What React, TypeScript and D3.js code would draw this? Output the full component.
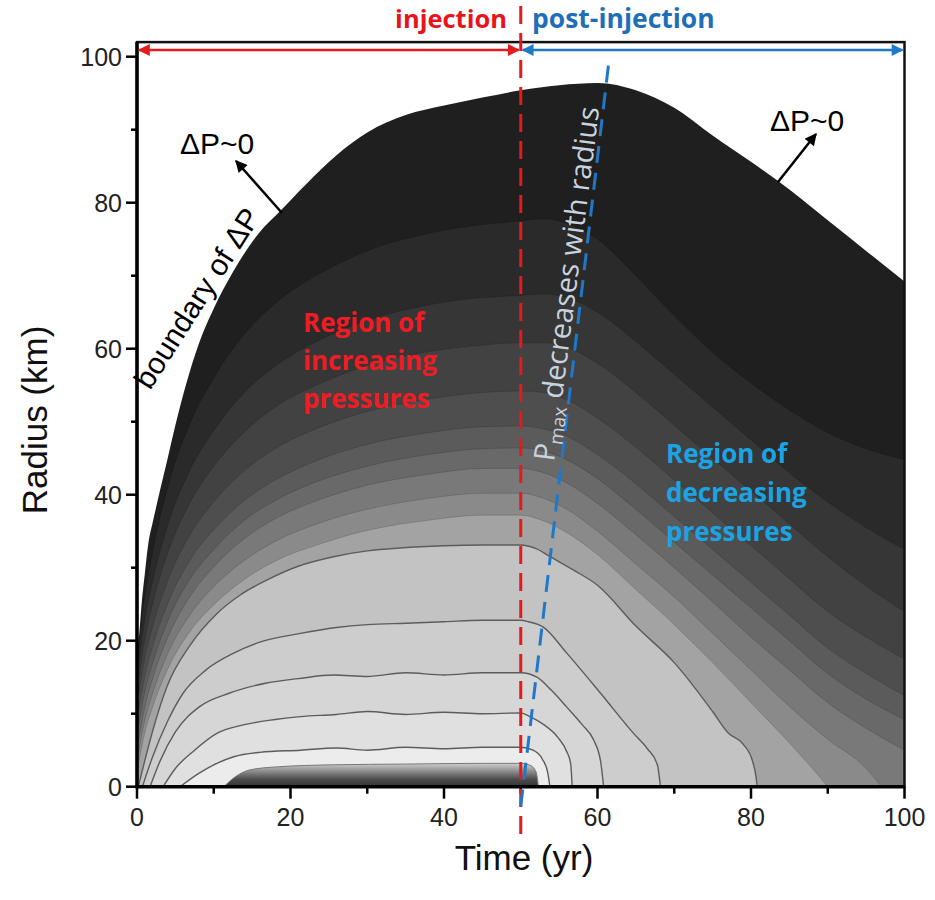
import React from "react";
import * as d3 from "d3";

type Pt = [number, number];

const timeTicks = [0, 20, 40, 60, 80, 100];
const radiusTicks = [0, 20, 40, 60, 80, 100];
const minorTicks = [10, 30, 50, 70, 90];

// outer edge of the pressure perturbation (ΔP ~ 0)
const boundaryDP: Pt[] = [[0,19],[0.3,21],[0.6,25],[1,29],[1.5,33.5],[2,36],[2.5,38.3],[3,40.6],[4,45],[5,49.5],[6.5,55.5],[8,60.5],[10,65.5],[12.5,70.5],[16,76],[18.6,78.8],[22,82.5],[26,86.5],[30,89.6],[35,92],[40,93.3],[45,94.4],[50,95.4],[55,96.1],[60,96.4],[65,95.4],[70,93],[75,89.2],[80,85.6],[85,81.8],[90,77.6],[95,73.4],[100,69.2]];

// filled contour levels (no drawn line), outer to inner
const levelA: Pt[] = [[0,17],[1,26],[2,32],[4,41],[7,50],[10,56],[14,62],[18,66.2],[24,70.4],[30,73.4],[38,75.8],[45,77],[50,77.5],[53,77.8],[56,77.2],[60,75],[65,70],[70,64.5],[75,59.5],[80,55.3],[85,51.6],[90,48.5],[95,46.3],[100,44.8]];
const levelB: Pt[] = [[0,15],[1,22.8],[2,28],[4,35.8],[7,43.6],[10,48.8],[14,54],[18,57.6],[24,61.3],[30,63.9],[38,66],[45,67],[50,67.3],[53,67.5],[56,67],[60,65],[65,61],[70,56.5],[75,52],[80,47.5],[85,43],[90,39],[95,35.5],[100,32.5]];
const levelC: Pt[] = [[0,13],[1,20.1],[2,24.9],[4,32],[7,39.1],[10,43.9],[14,48.6],[18,52],[24,55.3],[30,57.7],[38,59.6],[45,60.5],[50,60.8],[53,60.8],[56,60.2],[60,58],[65,54],[70,49.5],[75,45],[80,40.5],[85,36],[90,31.5],[95,27.5],[100,24]];
const levelD: Pt[] = [[0,11],[1,17.5],[2,21.8],[4,28.2],[7,34.7],[10,39],[14,43.3],[18,46.3],[24,49.3],[30,51.4],[38,53.1],[45,54],[50,54.2],[53,54],[56,53],[60,50.5],[65,46.5],[70,42],[75,37.5],[80,33],[85,28.5],[90,24],[95,20.5],[100,17.5]];
const levelE: Pt[] = [[0,9],[1,15],[2,19.1],[4,25.1],[7,31.2],[10,35.2],[14,39.2],[18,42],[24,44.9],[30,46.9],[38,48.5],[45,49.3],[50,49.4],[53,49],[56,48],[60,45.5],[65,41.5],[70,37],[75,32.5],[80,28],[85,23.5],[90,19],[95,15.5],[100,12.5]];
const levelF: Pt[] = [[0,7],[1,12.9],[2,16.8],[4,22.7],[7,28.6],[10,32.5],[14,36.5],[18,39.2],[24,42],[30,43.9],[38,45.5],[45,46.3],[50,46.4],[53,46],[56,44.8],[60,42.2],[65,38],[70,33.5],[75,29],[80,24.5],[85,20],[90,15.5],[95,12],[100,9.2]];
const levelG: Pt[] = [[0,5],[1,10.8],[2,14.7],[4,20.4],[7,26.2],[10,30.1],[14,34],[18,36.7],[24,39.4],[30,41.3],[38,42.8],[45,43.6],[50,43.6],[53,43],[56,41.6],[60,38.8],[65,34.5],[70,30],[75,25.3],[80,20.5],[85,16],[90,11.5],[95,8],[100,5]];
const levelH: Pt[] = [[0,3.5],[1,9],[2,12.7],[4,18.2],[7,23.7],[10,27.4],[14,31],[18,33.6],[24,36.2],[30,38],[38,39.5],[45,40.2],[50,40.2],[53,39.5],[56,38],[60,35],[65,30.5],[70,26],[75,21],[80,16],[85,11],[90,6.5],[95,2.5],[97,0]];
const levelI: Pt[] = [[0,2],[1,7.3],[2,10.8],[4,16.1],[7,21.4],[10,24.9],[14,28.4],[18,30.9],[24,33.3],[30,35.1],[38,36.5],[45,37.2],[50,37.2],[53,36.4],[56,34.8],[60,31.8],[65,27],[70,22.2],[75,17],[80,11.5],[85,6],[88,2.5],[90,0]];

// contour levels drawn with a line
const line33: Pt[] = [[0.17,0],[1,3.5],[2,7.5],[3.9,13.7],[7,19.5],[10.4,23.7],[13.5,26.3],[16.9,28.3],[21,30.2],[25.6,31.5],[30,32.3],[34.3,32.7],[40,33],[45,33.1],[50,33.1],[52,32.6],[54,31.4],[57,29.6],[60,27.6],[65,22],[70,17],[75,10.3],[77,7.4],[79,5.8],[80.2,3.5],[80.7,1],[80.8,0]];
const line23: Pt[] = [[0.7,0],[2,4],[4,9],[6,12.8],[9,16],[12.6,18.3],[16,19.8],[21.3,21],[26,21.8],[30,22.2],[35,22.4],[40,22.6],[45,22.8],[50,22.8],[51,22.6],[52.9,21.9],[56,18.3],[60.4,12.8],[64.7,7.3],[66.5,5.2],[67.8,3],[68.2,0]];
const line15: Pt[] = [[1.7,0],[3,3.5],[5,7.5],[8.2,11],[12,12.8],[16.9,14.2],[21,14.8],[25.6,15.3],[30,15.1],[35,15.6],[40,15.3],[45,15.6],[50,15.6],[52.1,15],[54,13.2],[56,10.9],[58,8.5],[59.5,6.4],[60.4,3.5],[60.8,0]];
const line10: Pt[] = [[3.4,0],[5,2.5],[7.5,5],[10.4,7.3],[14,8.5],[18,9.2],[21.3,9.6],[26,9.9],[30,10.3],[35,9.9],[40,10.2],[45,10],[50,10.1],[51.2,9.6],[53,8.5],[54.8,6.8],[56,4.8],[56.5,3.2],[56.7,0]];
const line5: Pt[] = [[5.6,0],[8,1.8],[10,3],[12.6,4.1],[16,4.7],[21.3,5],[26,5.3],[30,5],[35,5.4],[40,5.2],[45,5.4],[50,5.4],[51.6,5],[52.8,3.8],[53.5,2],[53.8,0]];
const innerCore: Pt[] = [[11.3,0],[13,1.5],[14.7,2.3],[18,2.7],[25.6,3],[35,3.1],[45,3.2],[50,3.2],[51.3,2.9],[52,2],[52.3,0]];

const bandColors = ["#1f1f1f","#2a2a2a","#363636","#424242","#4e4e4e","#5b5b5b","#696969","#797979","#8a8a8a","#a3a3a3","#c3c3c3","#cdcdcd","#d6d6d6","#e0e0e0","#ececec"];

const injectionEnd = 50;
const blueLineStart: Pt = [50, -2.7];
const blueLineEnd: Pt = [61.5, 99.5];

export default function App() {
  const x = d3.scaleLinear().domain([0, 100]).range([137, 904.5]);
  const y = d3.scaleLinear().domain([0, 100]).range([786.7, 56.7]);
  const area = d3.area<Pt>().x(d => x(d[0])).y0(y(0)).y1(d => y(d[1])).curve(d3.curveMonotoneX);
  const line = d3.line<Pt>().x(d => x(d[0])).y(d => y(d[1])).curve(d3.curveMonotoneX);

  const bands = [boundaryDP, levelA, levelB, levelC, levelD, levelE, levelF, levelG, levelH, levelI, line33, line23, line15, line10, line5];
  const faintEdges = [levelA, levelB, levelC, levelD, levelE, levelF, levelG, levelH, levelI];
  const lined = [line33, line23, line15, line10, line5];

  const top = y(102);
  const sans = "'Liberation Sans', Arial, sans-serif";
  const callout = "'Open Sans', 'Noto Sans', sans-serif";

  return (
    <svg width={935} height={900} style={{ position: "absolute", left: 0, top: 0, background: "#fff" }} fontFamily={sans}>
      <defs>
        <clipPath id="plotClip">
          <rect x={x(0)} y={top} width={x(100) - x(0)} height={y(0) - top} />
        </clipPath>
        <linearGradient id="coreGrad" gradientUnits="userSpaceOnUse" x1={0} y1={y(3.3)} x2={0} y2={y(0)}>
          <stop offset="0" stopColor="#d6d6d6" />
          <stop offset="0.35" stopColor="#8e8e8e" />
          <stop offset="0.7" stopColor="#4a4a4a" />
          <stop offset="1" stopColor="#333333" />
        </linearGradient>
        {[["ahRed", "#e41a1c"], ["ahBlue", "#1f78c8"], ["ahBlack", "#000"]].map(([id, c]) => (
          <marker key={id} id={id} viewBox="0 0 10 10" refX={9} refY={5} markerWidth={14} markerHeight={12} orient="auto-start-reverse" markerUnits="userSpaceOnUse">
            <path d="M0,0 L10,5 L0,10 z" fill={c} />
          </marker>
        ))}
      </defs>

      <g clipPath="url(#plotClip)">
        {bands.map((b, i) => (
          <path key={i} d={area(b) || ""} fill={bandColors[i]} />
        ))}
        <path d={area(innerCore) || ""} fill="url(#coreGrad)" />
        {faintEdges.map((b, i) => (
          <path key={"f" + i} d={line(b) || ""} fill="none" stroke="#000" strokeOpacity={0.18} strokeWidth={0.8} />
        ))}
        {lined.map((b, i) => (
          <path key={"l" + i} d={line(b) || ""} fill="none" stroke="#5c5c5c" strokeWidth={1.4} />
        ))}
        <path d={line(innerCore) || ""} fill="none" stroke="#777" strokeWidth={1} />
      </g>

      {/* frame */}
      <rect x={x(0)} y={top} width={x(100) - x(0)} height={y(0) - top} fill="none" stroke="#111" strokeWidth={2.5} />
      <line x1={x(0)} x2={x(0)} y1={top} y2={y(0) + 1.5} stroke="#000" strokeWidth={3.5} />
      <line x1={x(0) - 1.5} x2={x(100)} y1={y(0)} y2={y(0)} stroke="#000" strokeWidth={3.5} />

      {/* ticks */}
      {radiusTicks.map(v => (
        <g key={"yt" + v}>
          <line x1={x(0) - 11} x2={x(0)} y1={y(v)} y2={y(v)} stroke="#000" strokeWidth={2.5} />
          <text x={x(0) - 15} y={y(v)} dy="0.36em" textAnchor="end" fontSize={25} fill="#222">{v}</text>
        </g>
      ))}
      {minorTicks.map(v => (
        <line key={"ym" + v} x1={x(0) - 6} x2={x(0)} y1={y(v)} y2={y(v)} stroke="#000" strokeWidth={2.5} />
      ))}
      {timeTicks.map(v => (
        <g key={"xt" + v}>
          <line x1={x(v)} x2={x(v)} y1={y(0)} y2={y(0) + 12} stroke="#000" strokeWidth={2.5} />
          <text x={x(v)} y={826} textAnchor="middle" fontSize={25} fill="#222">{v}</text>
        </g>
      ))}
      {minorTicks.map(v => (
        <line key={"xm" + v} x1={x(v)} x2={x(v)} y1={y(0)} y2={y(0) + 7} stroke="#000" strokeWidth={2.5} />
      ))}

      <text x={524} y={870} textAnchor="middle" fontSize={35} fill="#111">Time (yr)</text>
      <text transform={`translate(47,420) rotate(-90)`} textAnchor="middle" fontSize={35} fill="#111">Radius (km)</text>

      {/* injection / post-injection */}
      <line x1={x(0) + 2} x2={x(injectionEnd) - 2} y1={50} y2={50} stroke="#e41a1c" strokeWidth={2.5} markerStart="url(#ahRed)" markerEnd="url(#ahRed)" />
      <line x1={x(injectionEnd) + 2} x2={x(100) - 2} y1={50} y2={50} stroke="#1f78c8" strokeWidth={2.5} markerStart="url(#ahBlue)" markerEnd="url(#ahBlue)" />
      <text x={507} y={28} textAnchor="end" fontFamily={callout} fontWeight={700} fontSize={25.5} fill="#e8141c">injection</text>
      <text x={532} y={28} fontFamily={callout} fontWeight={700} fontSize={26.5} fill="#1f6fb8">post-injection</text>

      <line x1={x(injectionEnd)} x2={x(injectionEnd)} y1={6} y2={842} stroke="#e41a1c" strokeWidth={3} strokeDasharray="18,9" />
      <line x1={x(blueLineStart[0])} y1={y(blueLineStart[1])} x2={x(blueLineEnd[0])} y2={y(blueLineEnd[1])} stroke="#1f78c8" strokeWidth={3} strokeDasharray="17,10" />

      {/* annotations */}
      <text x={180} y={154} fontSize={30} fill="#000">ΔP~0</text>
      <line x1={282} y1={213} x2={236} y2={161} stroke="#000" strokeWidth={2.5} markerEnd="url(#ahBlack)" />
      <text x={770} y={131} fontSize={30} fill="#000">ΔP~0</text>
      <line x1={778} y1={182} x2={816} y2={134} stroke="#000" strokeWidth={2.5} markerEnd="url(#ahBlack)" />
      <text transform="translate(150,391) rotate(-57.5)" fontSize={30} fill="#000">boundary of ΔP</text>

      <g fontFamily={callout} fontWeight={700} fontSize={26} fill="#f01c24">
        <text x={303} y={332}>Region of</text>
        <text x={303} y={370}>increasing</text>
        <text x={303} y={408}>pressures</text>
      </g>
      <g fontFamily={callout} fontWeight={700} fontSize={26} fill="#1ca3e3">
        <text x={666} y={463}>Region of</text>
        <text x={666} y={502}>decreasing</text>
        <text x={666} y={541}>pressures</text>
      </g>
      <text transform="translate(554,462) rotate(-82.7)" fontFamily={callout} fontSize={29} fill="#c9d3df">
        P<tspan fontSize={19} dy={6}>max</tspan><tspan dy={-6}> decreases with radius</tspan>
      </text>
    </svg>
  );
}
